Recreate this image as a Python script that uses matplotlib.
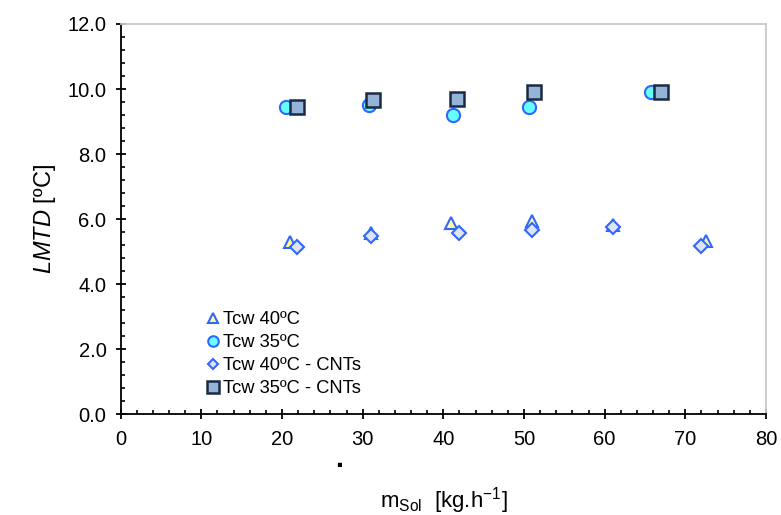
import matplotlib
matplotlib.use("Agg")
import matplotlib.pyplot as plt
from matplotlib.ticker import MultipleLocator, FormatStrFormatter

plt.rcParams['font.family'] = ['Liberation Sans', 'DejaVu Sans']
plt.rcParams['mathtext.fontset'] = 'custom'
plt.rcParams['mathtext.rm'] = 'Liberation Sans'
plt.rcParams['mathtext.it'] = 'Liberation Sans:italic'

# Solution mass flow rate [kg/h] and LMTD [ºC] for each test series
m_tcw40 = [21.0, 31.0, 41.0, 51.0, 61.0, 72.5]
lmtd_tcw40 = [5.30, 5.57, 5.88, 5.94, 5.82, 5.32]

m_tcw35 = [20.5, 30.8, 41.2, 50.6, 65.8]
lmtd_tcw35 = [9.45, 9.50, 9.20, 9.45, 9.90]

m_tcw40_cnt = [21.8, 31.0, 42.0, 51.0, 61.0, 72.0]
lmtd_tcw40_cnt = [5.15, 5.47, 5.57, 5.66, 5.76, 5.17]

m_tcw35_cnt = [21.9, 31.3, 41.7, 51.2, 67.0]
lmtd_tcw35_cnt = [9.45, 9.65, 9.70, 9.90, 9.90]

labels = ['Tcw 40ºC', 'Tcw 35ºC', 'Tcw 40ºC - CNTs', 'Tcw 35ºC - CNTs']

fig = plt.figure(figsize=(7.81, 5.15), dpi=100)
ax = fig.add_axes([0.1545, 0.1961, 0.8263, 0.7573])

blue = '#3366FF'
ax.plot(m_tcw40, lmtd_tcw40, linestyle='none', marker='^', markersize=9,
        markerfacecolor='#FFFF99', markeredgecolor=blue, markeredgewidth=1.5,
        label=labels[0], zorder=3)
ax.plot(m_tcw35, lmtd_tcw35, linestyle='none', marker='o', markersize=9.5,
        markerfacecolor='#66FFFF', markeredgecolor=blue, markeredgewidth=1.5,
        label=labels[1], zorder=3)
ax.plot(m_tcw40_cnt, lmtd_tcw40_cnt, linestyle='none', marker='D', markersize=7,
        markerfacecolor='#DCE6F2', markeredgecolor=blue, markeredgewidth=1.5,
        label=labels[2], zorder=4)
ax.plot(m_tcw35_cnt, lmtd_tcw35_cnt, linestyle='none', marker='s', markersize=10,
        markerfacecolor='#95B3D7', markeredgecolor='#1A2A44', markeredgewidth=1.8,
        label=labels[3], zorder=4)

ax.set_xlim(0, 80)
ax.set_ylim(0, 12)
ax.xaxis.set_major_locator(MultipleLocator(10))
ax.xaxis.set_minor_locator(MultipleLocator(2))
ax.yaxis.set_major_locator(MultipleLocator(2))
ax.yaxis.set_minor_locator(MultipleLocator(0.4))
ax.yaxis.set_major_formatter(FormatStrFormatter('%.1f'))

ax.tick_params(which='major', direction='inout', length=7.5, width=1.3,
               labelsize=14.5, color='black')
ax.tick_params(axis='x', which='major', pad=7.5)
ax.tick_params(axis='y', which='major', pad=6.5)
ax.tick_params(which='minor', direction='in', length=3.2, width=1.2, color='black')

for side in ('left', 'bottom'):
    ax.spines[side].set_color('black')
    ax.spines[side].set_linewidth(1.3)
for side in ('top', 'right'):
    ax.spines[side].set_color('#C8C8C8')
    ax.spines[side].set_linewidth(1.3)

ax.set_ylabel(r'$\mathit{LMTD}$ [ºC]', fontsize=17, labelpad=7)
ax.set_xlabel(r'm$_{\mathrm{Sol}}$  [kg.h$^{\mathrm{-1}}$]', fontsize=16, labelpad=26)
fig.text(0.4335, 0.097, '\u25aa', fontsize=12, ha='center', va='center', color='black')

leg = ax.legend(loc='upper left', bbox_to_anchor=(0.115, 0.297), frameon=False,
                fontsize=13.2, handlelength=0.6, handletextpad=0.25,
                labelspacing=0.33, borderpad=0.2, markerscale=0.8)

fig.savefig('out.png', dpi=100)
